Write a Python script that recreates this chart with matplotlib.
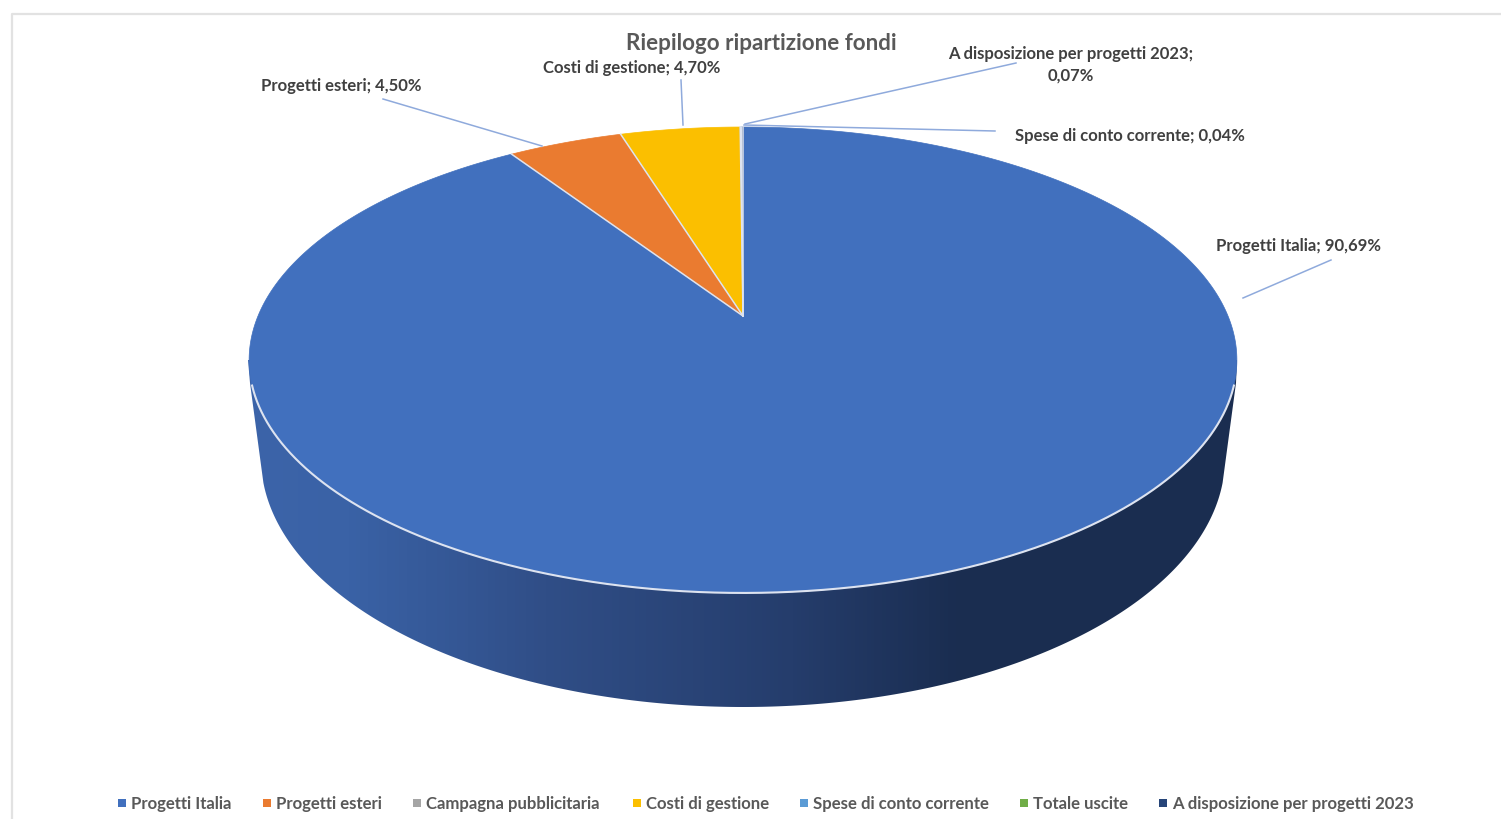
import numpy as np
import matplotlib
matplotlib.use("Agg")
import matplotlib.pyplot as plt
from matplotlib.patches import Polygon
from matplotlib.colors import LinearSegmentedColormap

plt.rcParams['font.family'] = ['Lato', 'DejaVu Sans']

# clockwise from the top of the pie
categories = ["Progetti Italia", "Progetti esteri", "Campagna pubblicitaria", "Costi di gestione",
              "Spese di conto corrente", "Totale uscite", "A disposizione per progetti 2023"]
values = [90.69, 4.50, 0.0, 4.70, 0.04, 0.0, 0.07]
colors = ["#4170be", "#ea7b30", "#a5a5a5", "#fbbf00", "#5b9bd5", "#70ad47", "#264478"]

TEXT = "#404040"
LEGEND = "#595959"
LEADER = "#8faadc"
EDGE = "#dde3f0"

fig = plt.figure(figsize=(15.01, 8.2), dpi=100)
ax = fig.add_axes([0, 0, 1, 1])

# tilted disc, perspective from the apex and the rim readings
CX, APEX_Y, K, B, C = 743.0, 316.0, 485.0, -165.0, 0.1888


def disc(pct, r=1.0):
    t = np.asarray(pct) / 100 * 2 * np.pi
    u, v = r * np.sin(t), r * np.cos(t)
    den = 1 + C * v
    return CX + K * u / den, (APEX_Y + B * v) / den


def wedge(start, end):
    p = np.linspace(start, end, max(int((end - start) * 8), 3))
    x, y = disc(p)
    return np.vstack([[CX, APEX_Y], np.column_stack([x, y])])


# side wall: gradient clipped to the outline
low_cx, low_cy, low_a, low_b = 743.0, 458.0, 482.0, 249.0
t = np.linspace(np.pi - 0.1, 0.1, 361)
low_rim = np.column_stack([low_cx + low_a * np.cos(t), low_cy + low_b * np.sin(t)])
wall = np.vstack([[[250, 383]], low_rim, [[1236, 383]], [[1237, 360]], [[743, 360]], [[248, 360]]])
wall_cmap = LinearSegmentedColormap.from_list(
    "wall", [(0, "#3c64a9"), (0.1, "#3a62a6"), (0.3, "#304e87"), (0.55, "#253d6c"),
             (0.72, "#1a2d50"), (1, "#1a2d50")])
patch = Polygon(wall, closed=True, fc="none", ec="none")
ax.add_patch(patch)
im = ax.imshow(np.linspace(0, 1, 256)[None, :], extent=[248, 1238, 720, 350], cmap=wall_cmap,
               aspect="auto", zorder=1)
im.set_clip_path(patch)

# top face
cum = np.concatenate([[0], np.cumsum(values)])
for i, col in enumerate(colors):
    if values[i] == 0:
        continue
    ax.add_patch(Polygon(wedge(cum[i], cum[i + 1]), closed=True, fc=col, ec=col, lw=0.5, zorder=3))

# separators from the apex, and the light line on the front of the rim
for c in np.unique(cum[1:]):
    x, y = disc(c)
    ax.plot([CX, x], [APEX_Y, y], color=EDGE, lw=1.1, zorder=4)
xr, yr = disc(np.linspace(0, 100, 1441))
front = yr > 385
order = np.argsort(xr[front])
ax.plot(xr[front][order], yr[front][order], color=EDGE, lw=1.5, zorder=4)

# frame of the chart area
ax.plot([12, 12, 1501], [820, 14, 14], color="#e2e2e2", lw=1.6, zorder=0)

ax.text(761, 42.5, "Riepilogo ripartizione fondi", ha="center", va="center", fontsize=16.1,
        fontweight="bold", color="#595959", zorder=5)

# data labels: text, position, leader line
labels = [
    (f"{categories[0]}; 90,69%", 1298, 245.5, [(1331, 260), (1243, 298)]),
    (f"{categories[1]}; 4,50%", 341, 85.5, [(383, 99), (542, 146)]),
    (f"{categories[3]}; 4,70%", 631.5, 67.5, [(681, 80), (683, 125)]),
    (f"{categories[6]};\n0,07%", 1071, 63.5, [(1016, 63), (745, 124)]),
    (f"{categories[4]}; 0,04%", 1130, 135.5, [(995, 131), (744, 125)]),
]
for txt, x, y, line in labels:
    ax.text(x, y, txt, ha="center", va="center", fontsize=12, fontweight="bold", color=TEXT,
            linespacing=1.4, zorder=5)
    ax.plot(*zip(*line), color=LEADER, lw=1.1, zorder=4)

# legend
leg_x = [122, 267, 417, 637, 804, 1024, 1163]
for x, name, col in zip(leg_x, categories, colors):
    ax.scatter([x], [803], marker="s", s=30, color=col, linewidths=0, zorder=5)
    ax.text(x + 9, 803.5, name, ha="left", va="center", fontsize=12.1, fontweight="bold",
            color=LEGEND, zorder=5)

ax.set_xlim(0, 1501)
ax.set_ylim(819, -1)
ax.axis("off")

fig.savefig("out.png", dpi=100)
